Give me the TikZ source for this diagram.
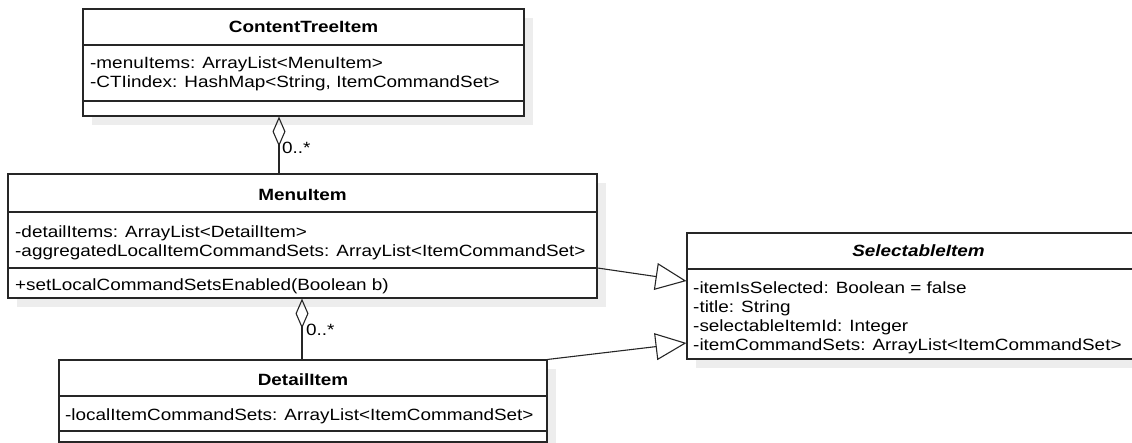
\documentclass[tikz,border=0pt]{standalone}
\usepackage{fontspec}
\setmainfont{Liberation Sans}[FakeStretch=1.16]
\usetikzlibrary{arrows.meta,shadows}

\tikzset{
  classbox/.style={draw=black!85, line width=1.1pt, fill=white, inner sep=0pt,
    drop shadow={shadow xshift=9pt, shadow yshift=-9pt, fill=black!7, opacity=1}},
  sepline/.style={draw=black!85, line width=1.1pt},
  classname/.style={font=\fontsize{16.3}{19.5}\selectfont\bfseries, anchor=base, inner sep=0pt},
  member/.style={font=\fontsize{16.3}{19.5}\selectfont, anchor=base west, inner sep=0pt},
  mult/.style={font=\fontsize{16.3}{19.5}\selectfont, anchor=north west, inner sep=0pt},
  aggr/.style={draw=black!85, line width=1.1pt,
    {Diamond[open, length=30pt, width=13pt, line width=1.1pt]}-},
  inherit/.style={draw=black!85, line width=1.1pt,
    -{Triangle[open, length=31pt, width=27pt, line width=1.1pt]}},
}

\begin{document}
\begin{tikzpicture}[x=1pt,y=-1pt]
  \useasboundingbox (0,0) rectangle (1132,443);

  % class boxes
  \node[classbox, minimum width=441pt, minimum height=107pt] (CTI) at (303.5,62.5) {};
  \node[classbox, minimum width=589pt, minimum height=124pt] (menu) at (302.5,236) {};
  \node[classbox, minimum width=488pt, minimum height=82pt] (detail) at (303,401) {};
  \node[classbox, minimum width=463pt, minimum height=126pt] (selectable) at (918.5,296) {};

  % compartments
  \draw[sepline] (CTI.west |- 0,45) -- (CTI.east |- 0,45);
  \draw[sepline] (CTI.west |- 0,101) -- (CTI.east |- 0,101);
  \draw[sepline] (menu.west |- 0,212) -- (menu.east |- 0,212);
  \draw[sepline] (menu.west |- 0,268) -- (menu.east |- 0,268);
  \draw[sepline] (detail.west |- 0,396) -- (detail.east |- 0,396);
  \draw[sepline] (detail.west |- 0,431) -- (detail.east |- 0,431);
  \draw[sepline] (selectable.west |- 0,269) -- (selectable.east |- 0,269);

  % ContentTreeItem
  \node[classname] (ctiName) at (CTI.center |- 0,33) {ContentTreeItem};
  \node[member] (ctiA1) at (90,69) {-menuItems: ArrayList<MenuItem>};
  \node[member] (ctiA2) at (90,88) {-CTIindex: HashMap<String, ItemCommandSet>};

  % MenuItem
  \node[classname] (menuName) at (menu.center |- 0,201) {MenuItem};
  \node[member] (menuA1) at (15,238) {-detailItems: ArrayList<DetailItem>};
  \node[member] (menuA2) at (15,257) {-aggregatedLocalItemCommandSets: ArrayList<ItemCommandSet>};
  \node[member] (menuM1) at (15,291) {+setLocalCommandSetsEnabled(Boolean b)};

  % DetailItem
  \node[classname] (detailName) at (detail.center |- 0,385) {DetailItem};
  \node[member] (detailA1) at (65,420) {-localItemCommandSets: ArrayList<ItemCommandSet>};

  % SelectableItem
  \node[classname] (selName) at (selectable.center |- 0,257) {\itshape SelectableItem};
  \node[member] (selA1) at (693,294) {-itemIsSelected: Boolean = false};
  \node[member] (selA2) at (693,313) {-title: String};
  \node[member] (selA3) at (693,332) {-selectableItemId: Integer};
  \node[member] (selA4) at (693,351) {-itemCommandSets: ArrayList<ItemCommandSet>};

  % associations
  \draw[aggr] (CTI.south -| 279,0) -- (menu.north -| 279,0);
  \node[mult] (m1) at (282,142) {0..*};
  \draw[aggr] (menu.south -| 302,0) -- (detail.north -| 302,0);
  \node[mult] (m2) at (306,324) {0..*};

  \draw[inherit] (menu.east |- 0,268) -- (selectable.west |- 0,281);
  \draw[inherit] (detail.north east) -- (selectable.west |- 0,343);
\end{tikzpicture}
\end{document}
